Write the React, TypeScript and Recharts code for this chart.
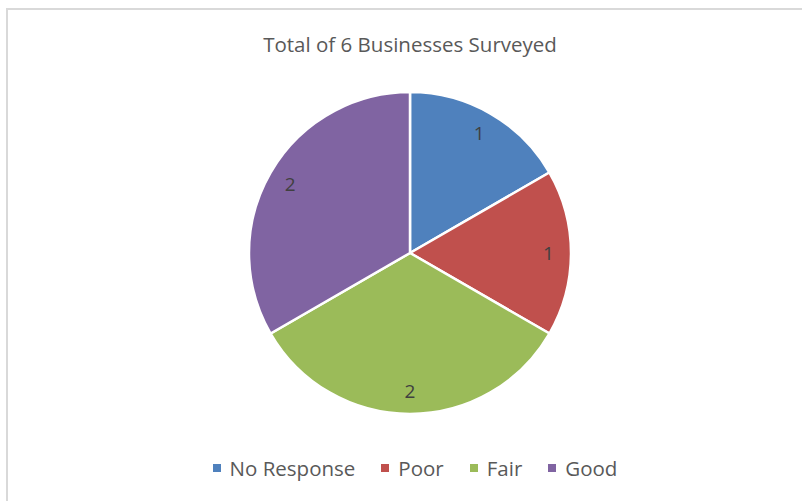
import React from "react";
import { PieChart, Pie, Cell } from "recharts";

const categories = ["No Response", "Poor", "Fair", "Good"];
const counts = [1, 1, 2, 2];
const colors = ["#4F81BD", "#C0504D", "#9BBB59", "#8064A2"];
const title = "Total of 6 Businesses Surveyed";

const data = categories.map((name, i) => ({ name, value: counts[i] }));

const FONT = "'Open Sans', 'Liberation Sans', sans-serif";
const RAD = Math.PI / 180;

const renderLabel = (props: any) => {
  const { cx, cy, midAngle, outerRadius, value } = props;
  const r = outerRadius * 0.86;
  const x = cx + r * Math.cos(-midAngle * RAD);
  const y = cy + r * Math.sin(-midAngle * RAD);
  return (
    <text
      x={x}
      y={y}
      fill="#404040"
      fontSize={19}
      fontFamily={FONT}
      textAnchor="middle"
      dominantBaseline="central"
    >
      {value}
    </text>
  );
};

function LegendRow() {
  return (
    <div
      style={{
        position: "absolute",
        left: 0,
        top: 454,
        width: 830,
        display: "flex",
        justifyContent: "center",
        fontFamily: FONT,
        fontSize: 20.5,
        color: "#595959",
      }}
    >
      {categories.map((c, i) => (
        <div
          key={c}
          style={{ display: "flex", alignItems: "center", marginRight: i < categories.length - 1 ? 26 : 0 }}
        >
          <span
            style={{ width: 8, height: 8, background: colors[i], display: "inline-block", marginRight: 9 }}
          />
          <span>{c}</span>
        </div>
      ))}
    </div>
  );
}

export default function App() {
  return (
    <div style={{ position: "absolute", left: 0, top: 0, width: 802, height: 501, background: "#fff", overflow: "hidden" }}>
      <div
        style={{
          position: "absolute",
          left: 6,
          top: 8,
          width: 820,
          height: 520,
          borderLeft: "2px solid #d9d9d9",
          borderTop: "2px solid #d9d9d9",
        }}
      />
      <div
        style={{
          position: "absolute",
          left: 0,
          top: 30,
          width: 820,
          textAlign: "center",
          fontFamily: FONT,
          fontSize: 20.5,
          color: "#595959",
        }}
      >
        {title}
      </div>
      <div style={{ position: "absolute", left: 0, top: 0 }}>
        <PieChart width={802} height={501} margin={{ top: 0, right: 0, bottom: 0, left: 0 }}>
          <Pie
            data={data}
            dataKey="value"
            nameKey="name"
            cx={410}
            cy={253}
            outerRadius={161}
            startAngle={90}
            endAngle={-270}
            stroke="#ffffff"
            strokeWidth={2.5}
            label={renderLabel}
            labelLine={false}
            isAnimationActive={false}
          >
            {data.map((d, i) => (
              <Cell key={d.name} fill={colors[i]} />
            ))}
          </Pie>
        </PieChart>
      </div>
      <LegendRow />
    </div>
  );
}
